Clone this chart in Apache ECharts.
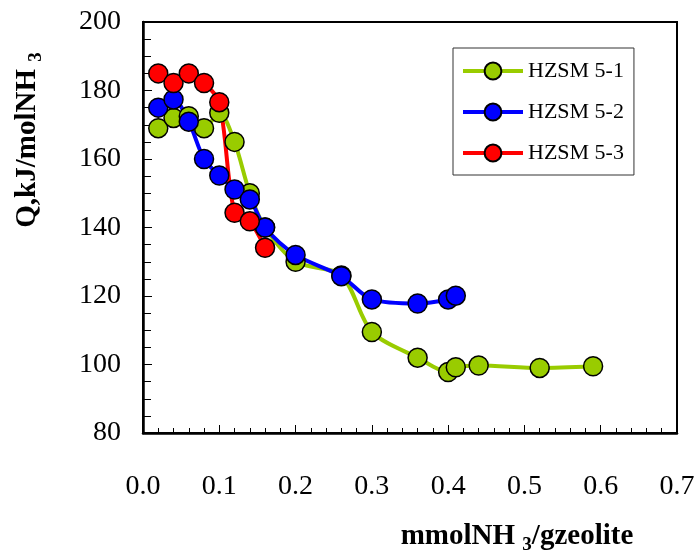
<!DOCTYPE html>
<html lang="en">
<head>
    <meta charset="UTF-8">
    <title>Q vs NH3</title>
    <script src="https://cdn.jsdelivr.net/npm/echarts@6/dist/echarts.min.js"></script>
</head>
<body style="margin:0">

    <div id="app" style="width: 698px;height: 552px;"></div>

    <script>
        // HZSM5-1
        const x1 = [0.02, 0.04, 0.06, 0.08, 0.10, 0.12, 0.14, 0.16, 0.20, 0.26, 0.30, 0.36, 0.40, 0.41, 0.44, 0.52, 0.59]
        const y1 = [169, 172, 172.5, 169, 173.5, 165, 150, 140, 130, 126, 109.5, 102, 97.8, 99.2, 99.7, 99, 99.5]
        // HZSM5-2
        const x2 = [0.02, 0.04, 0.06, 0.08, 0.10, 0.12, 0.14, 0.16, 0.20, 0.26, 0.30, 0.36, 0.40, 0.41]
        const y2 = [175, 177.4, 170.9, 160, 155.2, 151.1, 148.2, 140, 132, 125.8, 119, 117.8, 119, 120.1]
        // HZSM5-3
        const x3 = [0.02, 0.04, 0.06, 0.08, 0.10, 0.12, 0.14, 0.16]
        const y3 = [185, 182.2, 185, 182.2, 176.6, 144.3, 141.8, 134.1]

        const names = ['HZSM 5-1', 'HZSM 5-2', 'HZSM 5-3']
        const colors = ['#99cc00', '#0000ff', '#ff0000']

        const pairs = (xs, ys) => xs.map((x, i) => [x, ys[i]])
        const font = 'Liberation Serif'

        function mkSeries(i, data) {
            return {
                name: names[i],
                type: 'line',
                data: data,
                smooth: 0.3,
                symbol: 'circle',
                symbolSize: 19,
                lineStyle: { color: colors[i], width: 4 },
                itemStyle: { color: colors[i], borderColor: '#000', borderWidth: 1.5 },
                emphasis: { disabled: true }
            }
        }

        const titleRich = {
            a: { fontFamily: font, fontSize: 29, fontWeight: 'bold', fill: '#000', lineHeight: 34 },
            s: { fontFamily: font, fontSize: 19, fontWeight: 'bold', fill: '#000', lineHeight: 34, padding: [16, 0, 0, 0] }
        }

        var myChart = echarts.init(document.getElementById('app'));

        var option = {
            animation: false,
            backgroundColor: '#fff',
            grid: { left: 143, right: 21, top: 22, bottom: 119, show: true, borderColor: '#000', borderWidth: 2 },
            legend: {
                orient: 'vertical',
                left: 453, top: 48,
                padding: [12, 10, 11, 8],
                itemGap: 19,
                itemWidth: 60,
                itemHeight: 21,
                borderColor: '#333',
                borderWidth: 1,
                lineStyle: { width: 4 },
                textStyle: { fontFamily: font, fontSize: 22, color: '#000' },
                data: names
            },
            xAxis: {
                type: 'value',
                min: 0, max: 0.7, interval: 0.1,
                axisLine: { lineStyle: { color: '#000', width: 2.5 } },
                axisTick: { inside: true, length: 8, lineStyle: { color: '#000', width: 1 } },
                minorTick: { show: true, splitNumber: 5, length: 5, lineStyle: { color: '#000', width: 1 } },
                splitLine: { show: false },
                axisLabel: {
                    margin: 40, color: '#000', fontFamily: font, fontSize: 28,
                    formatter: v => v.toFixed(1)
                }
            },
            yAxis: {
                type: 'value',
                min: 80, max: 200, interval: 20,
                axisLine: { show: true, lineStyle: { color: '#000', width: 2.5 } },
                axisTick: { show: true, inside: true, length: 9, lineStyle: { color: '#000', width: 1 } },
                minorTick: { show: true, splitNumber: 4, length: 8, lineStyle: { color: '#000', width: 1 } },
                splitLine: { show: false },
                axisLabel: { margin: 22, color: '#000', fontFamily: font, fontSize: 28 }
            },
            graphic: [
                {
                    type: 'text',
                    x: 517, y: 537,
                    style: {
                        text: '{a|mmolNH }{s|3}{a|/gzeolite}',
                        align: 'center', verticalAlign: 'middle',
                        rich: titleRich
                    }
                },
                {
                    type: 'text',
                    x: 28, y: 140,
                    rotation: Math.PI / 2,
                    style: {
                        text: '{a|Q,kJ/molNH }{s|3}',
                        align: 'center', verticalAlign: 'middle',
                        rich: titleRich
                    }
                }
            ],
            series: [
                mkSeries(0, pairs(x1, y1)),
                mkSeries(1, pairs(x2, y2)),
                mkSeries(2, pairs(x3, y3))
            ]
        };

        myChart.setOption(option);
    </script>

</body>
</html>
